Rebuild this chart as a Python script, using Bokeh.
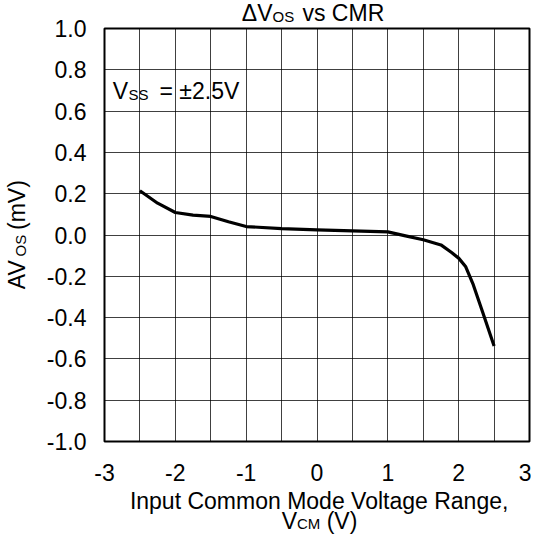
import math
from bokeh.plotting import figure
from bokeh.models import Range1d, FixedTicker
from bokeh.core.properties import value
from bokeh.embed import file_html
from bokeh.resources import INLINE

# ---- data ----
vcm = [-2.5, -2.25, -2.0, -1.75, -1.5, -1.25, -1.0, -0.5, 0.0, 0.5, 1.0,
       1.25, 1.5, 1.75, 1.9, 2.0, 2.1, 2.2, 2.35, 2.5]
dvos = [0.214, 0.154, 0.109, 0.096, 0.090, 0.064, 0.041, 0.031, 0.025, 0.020, 0.015,
        -0.004, -0.023, -0.048, -0.085, -0.112, -0.154, -0.235, -0.385, -0.537]

x_ticks = [-3, -2, -1, 0, 1, 2, 3]
x_tick_labels = ["-3", "-2", "-1", "0", "1", "2", "3"]
y_ticks = [-1.0, -0.8, -0.6, -0.4, -0.2, 0.0, 0.2, 0.4, 0.6, 0.8, 1.0]
y_tick_labels = ["-1.0", "-0.8", "-0.6", "-0.4", "-0.2", "0.0", "0.2", "0.4", "0.6", "0.8", "1.0"]
x_grid = [-2.5, -2.0, -1.5, -1.0, -0.5, 0.0, 0.5, 1.0, 1.5, 2.0, 2.5]
y_grid = [-0.8, -0.6, -0.4, -0.2, 0.0, 0.2, 0.4, 0.6, 0.8]

FONT = "Liberation Sans"
FS = 23
SUB = 15

PX_X = 425 / 6.0   # frame pixels per x unit
PX_Y = 413 / 2.0   # frame pixels per y unit

p = figure(width=531, height=535, x_range=Range1d(-3, 3), y_range=Range1d(-1, 1),
           output_backend="svg", toolbar_location=None,
           min_border_left=104, min_border_right=2, min_border_top=28, min_border_bottom=94)
p.background_fill_color = "white"
p.border_fill_color = "white"
p.outline_line_color = "black"
p.outline_line_width = 2

for ax in (p.xaxis[0], p.yaxis[0]):
    ax.axis_line_color = None
    ax.major_tick_line_color = None
    ax.minor_tick_line_color = None
    ax.major_label_text_font = FONT
    ax.major_label_text_font_size = f"{FS}px"
    ax.major_label_text_color = "black"

p.xaxis.ticker = FixedTicker(ticks=x_ticks)
p.xaxis.major_label_overrides = {t: s for t, s in zip(x_ticks, x_tick_labels)}
p.xaxis.major_label_standoff = 16
p.yaxis.ticker = FixedTicker(ticks=y_ticks)
p.yaxis.major_label_overrides = {t: s for t, s in zip(y_ticks, y_tick_labels)}
p.yaxis.major_label_standoff = 12

p.xgrid.ticker = FixedTicker(ticks=x_grid)
p.ygrid.ticker = FixedTicker(ticks=y_grid)
p.xgrid.grid_line_color = "black"
p.xgrid.grid_line_width = 1
p.xgrid.grid_line_alpha = 0.75
p.ygrid.grid_line_color = "black"
p.ygrid.grid_line_width = 1
p.ygrid.grid_line_alpha = 0.75

p.line(vcm, dvos, line_color="black", line_width=3.2, line_join="round")


def lab(x, y, text, size=FS, align="left", rotated=False):
    shift = 0.3 * size  # the text glyph draws its baseline about 0.3em low
    if rotated:
        x = x - shift / PX_X
        angle = math.pi / 2
    else:
        y = y + shift / PX_Y
        angle = 0.0
    p.text(x=[x], y=[y], text=[text], angle=angle,
           text_font=value(FONT), text_font_size=value(f"{size}px"),
           text_color="black", text_align=align, text_baseline="alphabetic",
           level="overlay")

# title: ΔV_OS vs CMR
lab(-0.628, 1.0436, "ΔV", align="right")
lab(-0.628, 1.0387, "OS", size=SUB)
lab(-0.205, 1.0436, "vs CMR")

# annotation V_SS = ±2.5V
lab(-2.883, 0.6659, "V")
lab(-2.661, 0.6610, "SS", size=SUB)
lab(-2.2235, 0.6659, "= ±2.5V")

# y-axis label AV_OS (mV), rotated
lab(-4.1365, -0.2625, "AV", rotated=True)
lab(-4.1224, -0.104, "OS", size=SUB, rotated=True)
lab(-4.1365, 0.0242, "(mV)", rotated=True)

# x-axis label
lab(0.03, -1.3196, "Input Common Mode Voltage Range,", align="center")
lab(-0.498, -1.4165, "V")
lab(-0.282, -1.4213, "CM", size=SUB)
lab(0.137, -1.4165, "(V)")

open("out.html", "w").write(file_html(p, INLINE))
